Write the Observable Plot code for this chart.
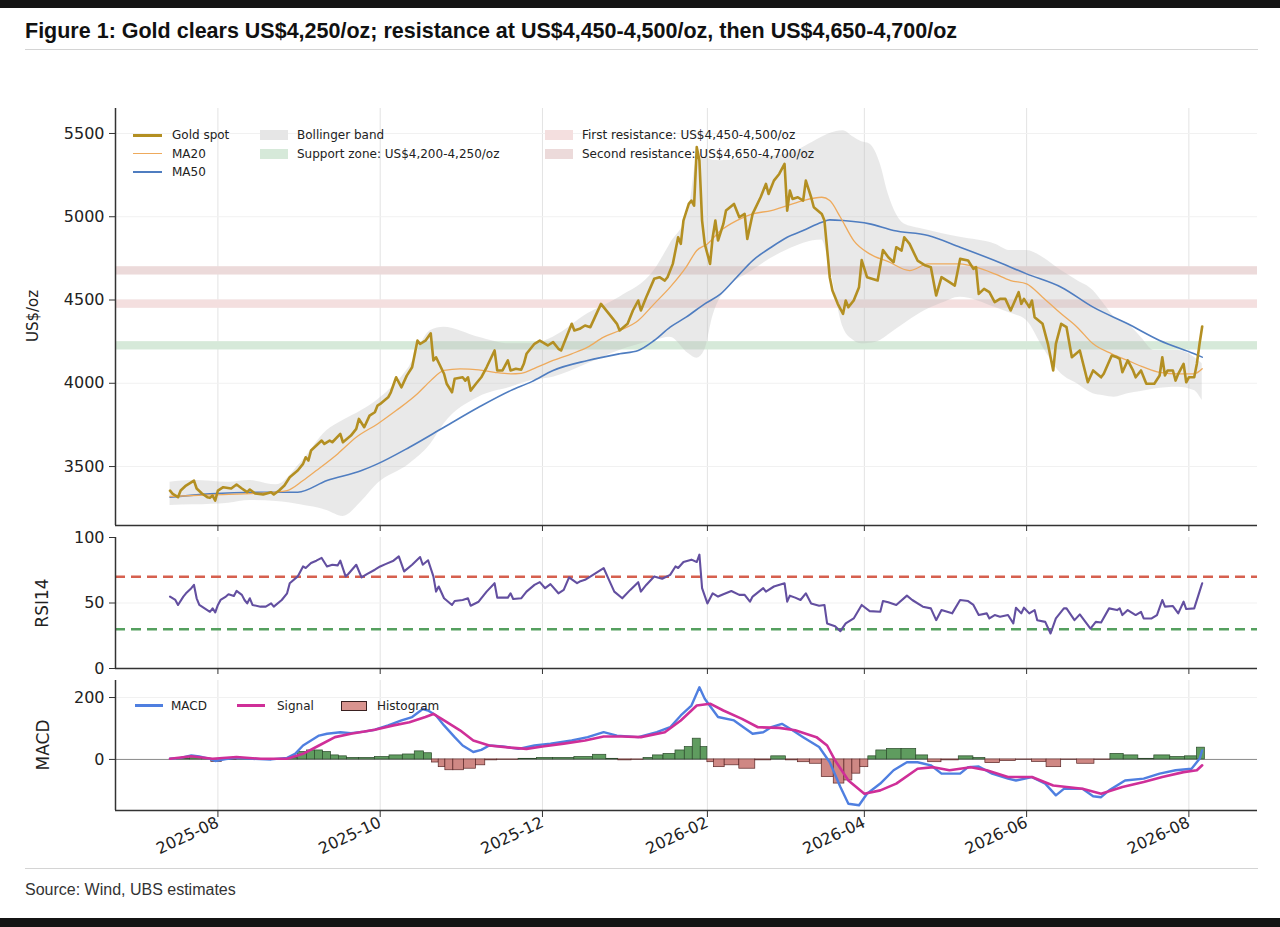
<!DOCTYPE html>
<html>
<head>
<meta charset="utf-8">
<script src="https://cdn.jsdelivr.net/npm/d3@7"></script>
<script src="https://cdn.jsdelivr.net/npm/@observablehq/plot@0.6"></script>
<style>
  body { margin: 0; background: #fff; }
  #page { position: relative; width: 1280px; height: 927px; overflow: hidden; background: #fff; font-family: "DejaVu Sans", sans-serif; color: #222; }
  .abs { position: absolute; }
  .bar { position: absolute; left: 0; width: 1280px; background: #141414; }
  .rule { position: absolute; left: 25px; width: 1233px; height: 1px; background: #d4d4d4; }
  #title { left: 25px; top: 18px; font-family: "Liberation Sans", Arial, sans-serif; font-weight: bold; font-size: 21.5px; line-height: 26px; color: #111; white-space: nowrap; }
  #source { left: 25px; top: 880px; font-family: "Liberation Sans", Arial, sans-serif; font-size: 16px; line-height: 20px; color: #333; }
  .ylab { position: absolute; transform: translate(-50%, -50%) rotate(-90deg); white-space: nowrap; color: #222; }
  .legtext { position: absolute; font-size: 12px; line-height: 16px; white-space: nowrap; color: #222; }
</style>
</head>
<body>
<div id="page">
  <div class="bar" style="top:0;height:8px"></div>
  <div id="title" class="abs">Figure 1: Gold clears US$4,250/oz; resistance at US$4,450-4,500/oz, then US$4,650-4,700/oz</div>
  <div class="rule" style="top:49px"></div>
  <div id="mainPlot" class="abs" style="left:0;top:88px"></div>
  <div id="rsiPlot" class="abs" style="left:0;top:527px"></div>
  <div id="macdWrap" class="abs" style="left:0;top:670px;width:1280px;height:188px;overflow:hidden"></div>
  <div class="ylab" style="left:33px;top:316px;font-size:15px">US$/oz</div>
  <div class="ylab" style="left:42px;top:603px;font-size:17px">RSI14</div>
  <div class="ylab" style="left:43px;top:745px;font-size:17px">MACD</div>
  <div class="rule" style="top:868px"></div>
  <div id="source" class="abs">Source: Wind, UBS estimates</div>
  <div class="bar" style="top:918px;height:9px"></div>
</div>
<script>
// ---------------- data ----------------
const goldSpot = [
["2025-07-14",3355],["2025-07-15",3336],["2025-07-17",3316],["2025-07-18",3356],["2025-07-20",3386],["2025-07-23",3416],["2025-07-24",3368],["2025-07-26",3338],["2025-07-28",3316],["2025-07-29",3312],["2025-07-30",3326],["2025-07-31",3296],
["2025-08-01",3356],["2025-08-03",3376],["2025-08-06",3368],["2025-08-08",3392],["2025-08-10",3368],["2025-08-12",3346],["2025-08-13",3362],["2025-08-15",3338],["2025-08-18",3332],["2025-08-21",3346],["2025-08-22",3332],["2025-08-24",3356],["2025-08-26",3386],["2025-08-28",3436],["2025-08-31",3476],
["2025-09-02",3516],["2025-09-03",3556],["2025-09-04",3536],["2025-09-05",3596],["2025-09-07",3626],["2025-09-09",3656],["2025-09-10",3636],["2025-09-12",3656],["2025-09-13",3646],["2025-09-16",3696],["2025-09-17",3646],["2025-09-20",3686],["2025-09-22",3726],["2025-09-23",3786],["2025-09-25",3736],["2025-09-27",3806],["2025-09-29",3826],["2025-09-30",3866],
["2025-10-01",3876],["2025-10-04",3916],["2025-10-05",3946],["2025-10-07",4036],["2025-10-09",3976],["2025-10-11",4046],["2025-10-13",4096],["2025-10-15",4256],["2025-10-16",4236],["2025-10-18",4256],["2025-10-20",4300],["2025-10-21",4137],["2025-10-22",4156],["2025-10-25",4057],["2025-10-26",3997],["2025-10-28",3946],["2025-10-29",4027],
["2025-11-01",4036],["2025-11-02",4016],["2025-11-03",4036],["2025-11-04",3956],["2025-11-06",3997],["2025-11-08",4036],["2025-11-10",4096],["2025-11-13",4197],["2025-11-14",4077],["2025-11-16",4077],["2025-11-18",4137],["2025-11-19",4077],["2025-11-21",4087],["2025-11-23",4081],["2025-11-24",4117],["2025-11-25",4177],["2025-11-28",4237],["2025-11-30",4256],
["2025-12-03",4227],["2025-12-05",4247],["2025-12-07",4207],["2025-12-08",4197],["2025-12-12",4357],["2025-12-13",4317],["2025-12-15",4327],["2025-12-17",4347],["2025-12-19",4337],["2025-12-23",4477],["2025-12-27",4397],["2025-12-29",4357],["2025-12-30",4317],
["2026-01-02",4357],["2026-01-04",4437],["2026-01-06",4497],["2026-01-07",4437],["2026-01-09",4517],["2026-01-12",4627],["2026-01-14",4637],["2026-01-16",4617],["2026-01-17",4637],["2026-01-19",4717],["2026-01-21",4877],["2026-01-22",4837],["2026-01-23",4977],["2026-01-25",5077],["2026-01-26",5097],["2026-01-27",5067],["2026-01-28",5418],["2026-01-29",5337],["2026-01-30",4977],["2026-01-31",4837],
["2026-02-02",4717],["2026-02-03",4877],["2026-02-04",4977],["2026-02-05",4857],["2026-02-07",4957],["2026-02-08",5037],["2026-02-11",5077],["2026-02-13",4997],["2026-02-15",5017],["2026-02-16",4867],["2026-02-18",5017],["2026-02-21",5117],["2026-02-23",5197],["2026-02-24",5137],["2026-02-26",5217],["2026-02-28",5257],
["2026-03-02",5317],["2026-03-03",5037],["2026-03-04",5157],["2026-03-05",5107],["2026-03-07",5117],["2026-03-09",5097],["2026-03-10",5217],["2026-03-12",5117],["2026-03-13",5057],["2026-03-16",5017],["2026-03-17",4977],["2026-03-19",4637],["2026-03-20",4557],["2026-03-22",4477],["2026-03-24",4417],["2026-03-25",4497],["2026-03-26",4457],["2026-03-28",4497],["2026-03-30",4577],["2026-03-31",4740],
["2026-04-02",4637],["2026-04-06",4617],["2026-04-08",4800],["2026-04-10",4757],["2026-04-12",4727],["2026-04-13",4817],["2026-04-15",4797],["2026-04-16",4877],["2026-04-18",4837],["2026-04-21",4737],["2026-04-24",4707],["2026-04-26",4697],["2026-04-28",4527],["2026-04-30",4637],
["2026-05-03",4607],["2026-05-05",4587],["2026-05-07",4747],["2026-05-10",4737],["2026-05-12",4687],["2026-05-13",4697],["2026-05-14",4537],["2026-05-16",4567],["2026-05-18",4547],["2026-05-20",4487],["2026-05-22",4507],["2026-05-24",4507],["2026-05-26",4437],["2026-05-29",4547],["2026-05-30",4477],["2026-05-31",4507],
["2026-06-02",4457],["2026-06-03",4497],["2026-06-04",4397],["2026-06-07",4357],["2026-06-09",4237],["2026-06-11",4077],["2026-06-12",4237],["2026-06-14",4357],["2026-06-16",4337],["2026-06-18",4156],["2026-06-21",4197],["2026-06-24",4006],["2026-06-26",4077],["2026-06-29",4036],["2026-06-30",4057],
["2026-07-03",4167],["2026-07-05",4156],["2026-07-06",4146],["2026-07-07",4066],["2026-07-09",4137],["2026-07-11",4077],["2026-07-12",4036],["2026-07-14",4077],["2026-07-16",3997],["2026-07-19",3997],["2026-07-21",4047],["2026-07-22",4156],["2026-07-23",4047],["2026-07-24",4077],["2026-07-26",4077],["2026-07-27",4016],["2026-07-28",4057],["2026-07-30",4117],["2026-07-31",4006],
["2026-08-01",4036],["2026-08-03",4036],["2026-08-04",4117],["2026-08-05",4237],["2026-08-06",4341]
];

const ma20 = [
["2025-07-14",3320],["2025-07-29",3330],["2025-08-17",3340],["2025-08-27",3356],["2025-09-02",3416],["2025-09-07",3476],["2025-09-15",3576],["2025-09-22",3676],["2025-09-30",3756],["2025-10-07",3836],["2025-10-15",3937],["2025-10-20",4016],["2025-10-25",4077],["2025-10-31",4087],["2025-11-07",4081],["2025-11-13",4066],["2025-11-19",4057],["2025-11-23",4060],["2025-11-29",4097],["2025-12-05",4137],["2025-12-12",4177],["2025-12-18",4217],["2025-12-24",4277],["2025-12-30",4317],["2026-01-06",4377],["2026-01-12",4477],["2026-01-18",4577],["2026-01-24",4697],["2026-01-28",4797],["2026-02-01",4837],["2026-02-06",4917],["2026-02-12",4977],["2026-02-18",5017],["2026-02-25",5037],["2026-03-03",5067],["2026-03-09",5097],["2026-03-16",5117],["2026-03-19",5097],["2026-03-23",4997],["2026-03-28",4857],["2026-04-03",4777],["2026-04-10",4730],["2026-04-18",4677],["2026-04-25",4717],["2026-05-07",4717],["2026-05-13",4697],["2026-05-20",4657],["2026-05-26",4617],["2026-06-01",4597],["2026-06-07",4517],["2026-06-14",4417],["2026-06-20",4337],["2026-06-26",4237],["2026-07-03",4177],["2026-07-09",4137],["2026-07-15",4097],["2026-07-21",4066],["2026-07-28",4057],["2026-08-03",4057],["2026-08-06",4087]
];

const ma50 = [
["2025-07-14",3316],["2025-07-29",3336],["2025-08-17",3346],["2025-08-31",3346],["2025-09-11",3416],["2025-09-24",3476],["2025-09-30",3516],["2025-10-12",3616],["2025-10-25",3736],["2025-11-07",3856],["2025-11-19",3956],["2025-11-27",4010],["2025-12-05",4077],["2025-12-18",4137],["2025-12-30",4177],["2026-01-06",4197],["2026-01-12",4257],["2026-01-18",4337],["2026-01-24",4397],["2026-01-31",4477],["2026-02-06",4537],["2026-02-12",4637],["2026-02-18",4737],["2026-02-25",4817],["2026-03-03",4877],["2026-03-09",4917],["2026-03-16",4967],["2026-03-19",4981],["2026-03-24",4977],["2026-04-03",4957],["2026-04-12",4917],["2026-04-25",4887],["2026-05-07",4817],["2026-05-20",4737],["2026-06-01",4657],["2026-06-14",4577],["2026-06-26",4457],["2026-07-09",4357],["2026-07-21",4257],["2026-08-03",4177],["2026-08-06",4157]
];

// [date, lower, upper]
const bollinger = [
["2025-07-14",3266,3406],["2025-07-23",3270,3416],["2025-08-05",3280,3406],["2025-08-13",3296,3416],["2025-08-23",3290,3390],["2025-09-01",3270,3520],["2025-09-11",3236,3716],["2025-09-17",3200,3776],["2025-09-24",3290,3836],["2025-09-30",3396,3900],["2025-10-12",3516,4100],["2025-10-20",3636,4317],["2025-10-25",3756,4337],["2025-11-07",3916,4277],["2025-11-19",3976,4237],["2025-11-27",4016,4237],["2025-12-05",4036,4277],["2025-12-18",4117,4417],["2025-12-30",4197,4517],["2026-01-12",4257,4677],["2026-01-18",4277,4837],["2026-01-25",4177,5037],["2026-01-28",4150,5337],["2026-01-31",4200,5357],["2026-02-03",4400,5340],["2026-02-06",4517,5337],["2026-02-18",4677,5357],["2026-03-03",4800,5377],["2026-03-16",4860,5477],["2026-03-19",4700,5500],["2026-03-24",4337,5517],["2026-03-28",4257,5477],["2026-03-31",4237,5450],["2026-04-03",4240,5437],["2026-04-07",4257,5317],["2026-04-10",4290,5137],["2026-04-16",4357,4957],["2026-04-22",4420,4930],["2026-04-30",4480,4900],["2026-05-07",4517,4877],["2026-05-20",4457,4837],["2026-05-26",4420,4797],["2026-06-01",4377,4797],["2026-06-07",4220,4757],["2026-06-14",4057,4677],["2026-06-20",3997,4617],["2026-06-26",3937,4557],["2026-06-30",3925,4477],["2026-07-04",3916,4397],["2026-07-09",3937,4357],["2026-07-14",3950,4277],["2026-07-19",3965,4197],["2026-07-28",3976,4197],["2026-08-03",3956,4157],["2026-08-06",3896,4117]
];

const supportZone = [4200, 4250];
const firstResistance = [4450, 4500];
const secondResistance = [4650, 4700];

const rsi14 = [
["2025-07-14",54.9],["2025-07-16",52.3],["2025-07-17",48.5],["2025-07-19",54.9],["2025-07-20",57.4],["2025-07-22",61.3],["2025-07-23",63.8],["2025-07-24",53.6],["2025-07-25",48.5],["2025-07-27",45.9],["2025-07-29",43.3],["2025-07-30",45.9],["2025-07-31",42.8],["2025-08-01",48.5],["2025-08-02",52.3],["2025-08-04",54.9],["2025-08-05",56.7],["2025-08-07",55.4],["2025-08-08",59.2],["2025-08-10",56.2],["2025-08-11",52.3],["2025-08-12",49.7],["2025-08-13",53.6],["2025-08-14",48.5],["2025-08-17",47.2],["2025-08-19",47.2],["2025-08-21",49.7],["2025-08-22",47.2],["2025-08-25",52.3],["2025-08-27",57.4],["2025-08-28",65.1],["2025-08-31",70.3],
["2025-09-02",77.9],["2025-09-03",76.7],["2025-09-05",80.5],["2025-09-07",82.3],["2025-09-09",84.4],["2025-09-11",77.9],["2025-09-13",79.2],["2025-09-15",78.7],["2025-09-16",82.3],["2025-09-18",70.3],["2025-09-19",72.1],["2025-09-22",79.2],["2025-09-24",69.5],["2025-09-26",72.1],["2025-09-29",75.4],["2025-10-01",77.9],["2025-10-03",79.7],["2025-10-06",82.3],["2025-10-08",85.6],["2025-10-10",74.1],["2025-10-13",79.2],["2025-10-16",85.1],["2025-10-17",79.2],["2025-10-19",82.6],["2025-10-21",70.3],["2025-10-22",58.7],["2025-10-23",62.6],["2025-10-25",53.6],["2025-10-28",48.5],["2025-10-29",51.5],
["2025-11-01",52.3],["2025-11-03",53.6],["2025-11-04",47.9],["2025-11-07",51],["2025-11-10",58.7],["2025-11-13",65.1],["2025-11-14",54.1],["2025-11-18",54.1],["2025-11-19",57.4],["2025-11-20",53.1],["2025-11-23",53.6],["2025-11-25",58.7],["2025-11-28",63.8],["2025-11-30",65.9],["2025-12-02",61.3],["2025-12-04",64.4],["2025-12-07",57.4],["2025-12-09",60],["2025-12-11",69.5],["2025-12-14",65.1],["2025-12-15",66.4],["2025-12-17",67.7],["2025-12-20",71.5],["2025-12-24",76.7],["2025-12-26",67.7],["2025-12-28",58.7],["2025-12-31",53.6],
["2026-01-03",60],["2026-01-06",65.9],["2026-01-07",58.7],["2026-01-09",63.8],["2026-01-12",70.3],["2026-01-15",68.5],["2026-01-18",71.5],["2026-01-20",77.9],["2026-01-21",76.7],["2026-01-23",81.3],["2026-01-26",83.1],["2026-01-28",81.3],["2026-01-29",86.9],["2026-01-30",61.3],["2026-02-01",49.7],["2026-02-03",57.4],["2026-02-05",54.9],["2026-02-07",56.7],["2026-02-10",59.2],["2026-02-13",56.2],["2026-02-15",56.2],["2026-02-17",51],["2026-02-18",54.9],["2026-02-22",61.3],["2026-02-23",58.7],["2026-02-26",62.6],
["2026-03-02",65.1],["2026-03-03",51],["2026-03-04",55.6],["2026-03-06",54.1],["2026-03-08",52.3],["2026-03-10",57.4],["2026-03-12",49.7],["2026-03-15",47.9],["2026-03-17",48.5],["2026-03-18",34.4],["2026-03-21",32.3],["2026-03-23",28.5],["2026-03-25",34.4],["2026-03-28",38.2],["2026-03-31",48.5],["2026-04-03",43.8],["2026-04-07",43.3],["2026-04-08",51.5],["2026-04-10",50.5],["2026-04-13",48.5],["2026-04-17",55.6],["2026-04-19",52.3],["2026-04-23",47.2],["2026-04-26",45.9],["2026-04-28",36.9],["2026-04-30",44.6],
["2026-05-04",42.1],["2026-05-07",52.3],["2026-05-10",51.5],["2026-05-12",48.5],["2026-05-14",40.8],["2026-05-17",42.1],["2026-05-18",38.2],["2026-05-20",40.8],["2026-05-22",39.5],["2026-05-25",40.8],["2026-05-27",34.4],["2026-05-28",46.4],["2026-05-30",42.1],["2026-05-31",46.4],["2026-06-02",42.1],["2026-06-04",44.6],["2026-06-05",36.9],["2026-06-08",35.6],["2026-06-10",26.7],["2026-06-12",38.2],["2026-06-15",45.9],["2026-06-16",45.9],["2026-06-19",36.9],["2026-06-21",41.3],["2026-06-25",30.5],["2026-06-27",35.6],["2026-06-29",35.1],
["2026-07-02",45.9],["2026-07-05",44.6],["2026-07-06",45.9],["2026-07-07",40.8],["2026-07-09",44.6],["2026-07-12",40.8],["2026-07-14",43.3],["2026-07-15",38.2],["2026-07-18",38.2],["2026-07-20",40.8],["2026-07-22",52.3],["2026-07-23",47.2],["2026-07-26",47.7],["2026-07-28",42.1],["2026-07-30",51],["2026-07-31",45.4],["2026-08-03",45.9],["2026-08-05",58.7],["2026-08-06",65.1]
];
const rsiOverbought = 70;
const rsiOversold = 30;

const macd = [
["2025-07-14",2],["2025-07-18",5],["2025-07-22",13],["2025-07-25",10],["2025-07-29",2],["2025-07-31",-5],["2025-08-04",1],["2025-08-08",5],["2025-08-14",2],["2025-08-21",0],["2025-08-27",5],["2025-08-30",18],["2025-09-02",45],["2025-09-05",61],["2025-09-08",77],["2025-09-11",83],["2025-09-16",88],["2025-09-20",85],["2025-09-25",90],["2025-09-29",96],["2025-10-04",110],["2025-10-09",126],["2025-10-13",137],["2025-10-17",163],["2025-10-19",158],["2025-10-22",142],["2025-10-25",110],["2025-10-29",72],["2025-11-01",45],["2025-11-05",24],["2025-11-08",31],["2025-11-11",45],["2025-11-16",42],["2025-11-22",34],["2025-11-28",45],["2025-12-04",51],["2025-12-12",61],["2025-12-18",72],["2025-12-24",88],["2025-12-29",77],
["2026-01-06",72],["2026-01-13",88],["2026-01-18",104],["2026-01-22",142],["2026-01-26",174],["2026-01-29",233],["2026-01-31",196],["2026-02-05",137],["2026-02-11",126],["2026-02-18",83],["2026-02-22",88],["2026-02-25",104],["2026-03-01",115],["2026-03-05",94],["2026-03-09",72],["2026-03-15",40],["2026-03-19",-9],["2026-03-23",-89],["2026-03-26",-143],["2026-03-30",-148],["2026-04-02",-111],["2026-04-07",-78],["2026-04-12",-35],["2026-04-17",-9],["2026-04-21",-9],["2026-04-26",-19],["2026-04-30",-46],["2026-05-07",-46],["2026-05-10",-25],["2026-05-14",-23],["2026-05-19",-46],["2026-05-25",-62],["2026-05-28",-68],["2026-06-03",-57],["2026-06-08",-78],["2026-06-12",-116],["2026-06-15",-95],["2026-06-22",-95],["2026-06-26",-119],["2026-06-29",-122],["2026-07-02",-100],["2026-07-08",-68],["2026-07-15",-62],["2026-07-21",-46],["2026-07-27",-35],["2026-08-02",-30],["2026-08-05",2],["2026-08-06",29]
];

const signal = [
["2025-07-14",2],["2025-07-22",10],["2025-07-30",2],["2025-08-08",8],["2025-08-17",2],["2025-08-27",2],["2025-09-02",18],["2025-09-08",45],["2025-09-14",72],["2025-09-20",83],["2025-09-29",96],["2025-10-06",110],["2025-10-12",120],["2025-10-18",137],["2025-10-21",147],["2025-10-25",126],["2025-10-31",94],["2025-11-05",61],["2025-11-11",45],["2025-11-19",38],["2025-11-25",34],["2025-12-01",42],["2025-12-09",51],["2025-12-17",61],["2025-12-24",74],["2025-12-31",74],
["2026-01-07",72],["2026-01-16",88],["2026-01-22",126],["2026-01-28",174],["2026-02-02",180],["2026-02-07",158],["2026-02-14",131],["2026-02-20",104],["2026-02-28",102],["2026-03-06",94],["2026-03-14",72],["2026-03-18",45],["2026-03-21",-3],["2026-03-26",-68],["2026-04-01",-111],["2026-04-07",-100],["2026-04-13",-78],["2026-04-21",-30],["2026-04-27",-25],["2026-05-03",-35],["2026-05-11",-25],["2026-05-17",-35],["2026-05-25",-57],["2026-06-03",-57],["2026-06-11",-84],["2026-06-22",-95],["2026-06-29",-111],["2026-07-07",-89],["2026-07-15",-73],["2026-07-22",-57],["2026-07-30",-41],["2026-08-04",-35],["2026-08-06",-19]
];

const histogram = [
["2025-07-14",0],["2025-07-19",3],["2025-07-24",8],["2025-07-28",2],["2025-07-31",-8],["2025-08-05",-2],["2025-08-11",3],["2025-08-18",1],["2025-08-24",-1],["2025-08-29",5],["2025-09-02",24],["2025-09-05",29],["2025-09-08",29],["2025-09-11",24],["2025-09-14",13],["2025-09-17",10],["2025-09-20",5],["2025-09-26",5],["2025-10-02",8],["2025-10-07",13],["2025-10-12",16],["2025-10-16",26],["2025-10-19",20],["2025-10-22",-10],["2025-10-24",-25],["2025-10-27",-35],["2025-10-30",-35],["2025-11-04",-30],["2025-11-08",-19],["2025-11-11",-3],["2025-11-17",-1],["2025-11-27",2],["2025-12-01",5],["2025-12-09",5],["2025-12-17",8],["2025-12-23",15],["2025-12-27",2],
["2026-01-01",-3],["2026-01-06",-1],["2026-01-10",5],["2026-01-13",13],["2026-01-18",18],["2026-01-22",29],["2026-01-25",40],["2026-01-28",67],["2026-01-31",40],["2026-02-02",-9],["2026-02-05",-25],["2026-02-10",-19],["2026-02-16",-30],["2026-02-22",-3],["2026-02-28",10],["2026-03-05",-3],["2026-03-09",-9],["2026-03-14",-14],["2026-03-18",-57],["2026-03-23",-78],["2026-03-26",-68],["2026-03-29",-46],["2026-04-01",-25],["2026-04-04",10],["2026-04-07",29],["2026-04-12",34],["2026-04-18",34],["2026-04-23",13],["2026-04-27",-9],["2026-05-03",-3],["2026-05-10",10],["2026-05-14",5],["2026-05-19",-12],["2026-05-25",-5],["2026-05-31",-1],["2026-06-06",-8],["2026-06-11",-25],["2026-06-17",-1],["2026-06-23",-14],["2026-06-30",-1],["2026-07-05",18],["2026-07-10",13],["2026-07-16",2],["2026-07-22",13],["2026-07-28",8],["2026-08-02",10],["2026-08-06",38]
];

const xTickDates = ["2025-08-01","2025-10-01","2025-12-01","2026-02-01","2026-04-01","2026-06-01","2026-08-01"];
const xDomainDates = ["2025-06-23T12:00:00Z", "2026-08-26T19:00:00Z"];
const priceTicks = [3500, 4000, 4500, 5000, 5500];
const priceDomain = [3146, 5650];
const rsiTicks = [0, 50, 100];
const rsiDomain = [0, 100];
const macdTicks = [0, 200];
const macdDomain = [-165, 255];

// ---------------- helpers ----------------
const parse = d3.utcParse("%Y-%m-%d");
const series = arr => arr.map(([d, v]) => ({date: parse(d), value: v}));
const xDomain = xDomainDates.map(s => new Date(s));
const xTicks = xTickDates.map(parse);
const plain = d => String(d);

const gold = series(goldSpot);
const ma20Data = series(ma20);
const ma50Data = series(ma50);
const band = bollinger.map(([d, lo, hi]) => ({date: parse(d), lower: lo, upper: hi}));
const rsiData = series(rsi14);
const macdData = series(macd);
const signalData = series(signal);
const histDates = histogram.map(([d]) => parse(d));
const mid = (a, b) => new Date((+a + +b) / 2);
const histBars = histogram.map(([d, v], i) => {
  const cur = histDates[i];
  const next = i < histDates.length - 1 ? histDates[i + 1] : d3.utcDay.offset(cur, 1);
  return {x1: i > 0 ? mid(histDates[i - 1], cur) : cur, x2: i < histDates.length - 1 ? mid(cur, next) : next, v};
});

const baseStyle = {background: "transparent", overflow: "visible", fontFamily: "'DejaVu Sans', sans-serif", fontSize: "16px", color: "#222"};
const spineColor = "#333";
const gridColor = "#e3e3e3";

// ---------------- main price panel ----------------
const mainPlot = Plot.plot({
  width: 1280, height: 445,
  marginLeft: 115, marginRight: 23, marginTop: 20, marginBottom: 8,
  style: baseStyle,
  x: {type: "utc", domain: xDomain},
  y: {domain: priceDomain},
  marks: [
    Plot.gridX(xTicks, {stroke: gridColor, strokeOpacity: 1}),
    Plot.gridY(priceTicks, {stroke: "#f1f1f1", strokeOpacity: 1}),
    Plot.rect([supportZone], {y1: d => d[0], y2: d => d[1], fill: "#d6e9d9"}),
    Plot.rect([firstResistance], {y1: d => d[0], y2: d => d[1], fill: "#f4dfdf"}),
    Plot.rect([secondResistance], {y1: d => d[0], y2: d => d[1], fill: "#ecdada"}),
    Plot.areaY(band, {x: "date", y1: "lower", y2: "upper", fill: "#bdbdbd", fillOpacity: 0.33, curve: "monotone-x"}),
    Plot.lineY(ma50Data, {x: "date", y: "value", stroke: "#4f7dc0", strokeWidth: 1.6, curve: "monotone-x"}),
    Plot.lineY(ma20Data, {x: "date", y: "value", stroke: "#eeaa5c", strokeWidth: 1.3, curve: "monotone-x"}),
    Plot.lineY(gold, {x: "date", y: "value", stroke: "#b38f22", strokeWidth: 2.6}),
    Plot.ruleX([xDomain[0]], {stroke: spineColor, strokeWidth: 1.5}),
    Plot.ruleY([priceDomain[0]], {stroke: spineColor, strokeWidth: 1.5}),
    Plot.axisY(priceTicks, {tickSize: 6, tickPadding: 5, tickFormat: plain, label: null, fontSize: 16, stroke: spineColor}),
    Plot.axisX(xTicks, {tickSize: 6, tickFormat: () => "", label: null, stroke: spineColor})
  ]
});
document.getElementById("mainPlot").appendChild(mainPlot);

// ---------------- RSI panel ----------------
const rsiPlot = Plot.plot({
  width: 1280, height: 149,
  marginLeft: 115, marginRight: 23, marginTop: 10, marginBottom: 8,
  style: baseStyle,
  x: {type: "utc", domain: xDomain},
  y: {domain: rsiDomain},
  marks: [
    Plot.gridX(xTicks, {stroke: gridColor, strokeOpacity: 1}),
    Plot.gridY([50], {stroke: "#f1f1f1", strokeOpacity: 1}),
    Plot.ruleY([rsiOverbought], {stroke: "#d6604f", strokeWidth: 2.4, strokeDasharray: "10,6"}),
    Plot.ruleY([rsiOversold], {stroke: "#55a05f", strokeWidth: 2.4, strokeDasharray: "10,6"}),
    Plot.lineY(rsiData, {x: "date", y: "value", stroke: "#634fa0", strokeWidth: 2.1}),
    Plot.ruleX([xDomain[0]], {stroke: spineColor, strokeWidth: 1.5}),
    Plot.ruleY([rsiDomain[0]], {stroke: spineColor, strokeWidth: 1.5}),
    Plot.axisY(rsiTicks, {tickSize: 6, tickPadding: 5, tickFormat: plain, label: null, fontSize: 16, stroke: spineColor}),
    Plot.axisX(xTicks, {tickSize: 6, tickFormat: () => "", label: null, stroke: spineColor})
  ]
});
document.getElementById("rsiPlot").appendChild(rsiPlot);

// ---------------- MACD panel ----------------
const macdPlot = Plot.plot({
  width: 1280, height: 200,
  marginLeft: 115, marginRight: 23, marginTop: 10, marginBottom: 60,
  style: baseStyle,
  x: {type: "utc", domain: xDomain},
  y: {domain: macdDomain},
  marks: [
    Plot.gridX(xTicks, {stroke: gridColor, strokeOpacity: 1}),
    Plot.gridY([200], {stroke: "#f1f1f1", strokeOpacity: 1}),
    Plot.ruleY([0], {stroke: "#8a8a8a", strokeWidth: 1}),
    Plot.rect(histBars, {x1: "x1", x2: "x2", y1: 0, y2: "v",
      fill: d => d.v >= 0 ? "#5f9c5f" : "#cf8884",
      stroke: d => d.v >= 0 ? "#2c4a2c" : "#5a2626", strokeWidth: 0.7}),
    Plot.lineY(macdData, {x: "date", y: "value", stroke: "#4f7fe0", strokeWidth: 2.4}),
    Plot.lineY(signalData, {x: "date", y: "value", stroke: "#cf2f98", strokeWidth: 2.6}),
    Plot.ruleX([xDomain[0]], {stroke: spineColor, strokeWidth: 1.5}),
    Plot.ruleY([macdDomain[0]], {stroke: spineColor, strokeWidth: 1.5}),
    Plot.axisY(macdTicks, {tickSize: 6, tickPadding: 5, tickFormat: plain, label: null, fontSize: 16, stroke: spineColor}),
    Plot.axisX(xTicks, {tickSize: 7, tickPadding: 4, tickRotate: -25, tickFormat: d3.utcFormat("%Y-%m"), label: null, fontSize: 16, stroke: spineColor})
  ]
});
document.getElementById("macdWrap").appendChild(macdPlot);

// ---------------- legends (HTML) ----------------
const page = document.getElementById("page");
function legLine(x, y, w, color, thick) {
  const d = document.createElement("div");
  d.className = "abs";
  Object.assign(d.style, {left: x + "px", top: (y - thick / 2) + "px", width: w + "px", height: thick + "px", background: color});
  page.appendChild(d);
}
function legPatch(x, y, w, h, fill, stroke) {
  const d = document.createElement("div");
  d.className = "abs";
  Object.assign(d.style, {left: x + "px", top: (y - h / 2) + "px", width: w + "px", height: h + "px", background: fill, boxSizing: "border-box", border: stroke ? ("1px solid " + stroke) : "none"});
  page.appendChild(d);
}
function legText(x, y, text, size) {
  const d = document.createElement("div");
  d.className = "legtext";
  d.textContent = text;
  Object.assign(d.style, {left: x + "px", top: (y - 8) + "px", fontSize: (size || 12) + "px"});
  page.appendChild(d);
}
legLine(133, 135, 29, "#b38f22", 3); legText(172, 135, "Gold spot");
legLine(133, 153.5, 29, "#eeaa5c", 1.6); legText(172, 153.5, "MA20");
legLine(133, 172, 29, "#4f7dc0", 1.8); legText(172, 172, "MA50");
legPatch(260, 135, 28, 10, "#e6e6e6"); legText(297, 135, "Bollinger band");
legPatch(260, 153.5, 28, 10, "#d6e9d9"); legText(297, 153.5, "Support zone: US$4,200-4,250/oz");
legPatch(545, 135, 28, 10, "#f4dfdf"); legText(582, 135, "First resistance: US$4,450-4,500/oz");
legPatch(545, 153.5, 28, 10, "#ecdada"); legText(582, 153.5, "Second resistance: US$4,650-4,700/oz");

legLine(135, 705.5, 28, "#4f7fe0", 2.6); legText(171, 705.5, "MACD");
legLine(237, 705.5, 28, "#cf2f98", 2.6); legText(277, 705.5, "Signal");
legPatch(341, 705.5, 26, 10, "#d9948f", "#3a2020"); legText(377, 705.5, "Histogram");
</script>
</body>
</html>
